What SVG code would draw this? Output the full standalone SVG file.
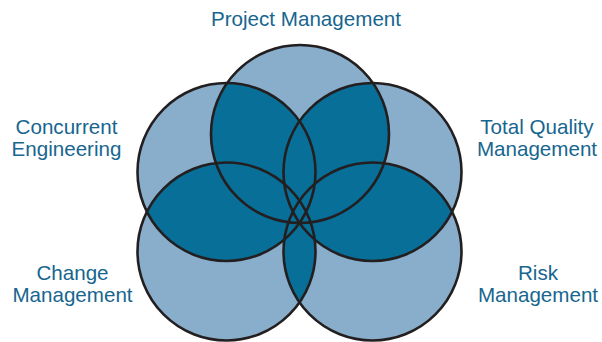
<svg xmlns="http://www.w3.org/2000/svg" xmlns:xlink="http://www.w3.org/1999/xlink" width="602" height="342" viewBox="0 0 602 342">
<style>
.lt{fill:#88aecb;stroke:none}
.dk{fill:#086f98;stroke:none}
.ol{fill:none;stroke:#231f20;stroke-width:2.6}
.lbl{font-family:"Liberation Sans",Arial,sans-serif;font-size:20.6px;fill:#17668f;text-anchor:middle}
</style>
<defs>
<circle id="cP" cx="300" cy="134" r="89"/>
<circle id="cC" cx="226.5" cy="172" r="89"/>
<circle id="cT" cx="372.5" cy="172" r="89"/>
<circle id="cG" cx="226.5" cy="251.5" r="89"/>
<circle id="cR" cx="372.5" cy="251.5" r="89"/>
<clipPath id="kP"><use xlink:href="#cP"/></clipPath>
<clipPath id="kC"><use xlink:href="#cC"/></clipPath>
<clipPath id="kT"><use xlink:href="#cT"/></clipPath>
<clipPath id="kG"><use xlink:href="#cG"/></clipPath>
</defs>
<rect width="602" height="342" fill="#ffffff"/>
<g id="fills">
<use xlink:href="#cP" class="lt"/>
<use xlink:href="#cC" class="lt"/>
<use xlink:href="#cT" class="lt"/>
<use xlink:href="#cG" class="lt"/>
<use xlink:href="#cR" class="lt"/>
</g>
<g id="overlaps">
<g clip-path="url(#kP)"><use xlink:href="#cC" class="dk"/><use xlink:href="#cT" class="dk"/><use xlink:href="#cG" class="dk"/><use xlink:href="#cR" class="dk"/></g>
<g clip-path="url(#kC)"><use xlink:href="#cT" class="dk"/><use xlink:href="#cG" class="dk"/><use xlink:href="#cR" class="dk"/></g>
<g clip-path="url(#kT)"><use xlink:href="#cG" class="dk"/><use xlink:href="#cR" class="dk"/></g>
<g clip-path="url(#kG)"><use xlink:href="#cR" class="dk"/></g>
</g>
<g id="node-project"><use xlink:href="#cP" class="ol"/><text class="lbl" x="306" y="26">Project Management</text></g>
<g id="node-concurrent"><use xlink:href="#cC" class="ol"/><text class="lbl" x="66.5" y="133.5">Concurrent</text><text class="lbl" x="66.5" y="155.5">Engineering</text></g>
<g id="node-tqm"><use xlink:href="#cT" class="ol"/><text class="lbl" x="537" y="133.5">Total Quality</text><text class="lbl" x="537" y="155.5">Management</text></g>
<g id="node-change"><use xlink:href="#cG" class="ol"/><text class="lbl" x="72.5" y="280">Change</text><text class="lbl" x="72.5" y="302">Management</text></g>
<g id="node-risk"><use xlink:href="#cR" class="ol"/><text class="lbl" x="538" y="280">Risk</text><text class="lbl" x="538" y="302">Management</text></g>
<g id="connectors"/>
</svg>
